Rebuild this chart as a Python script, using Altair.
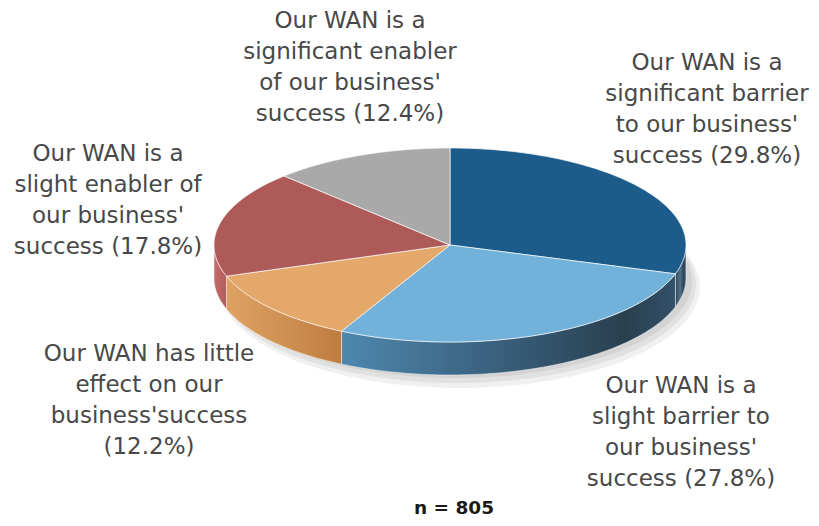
import math
import altair as alt

# ---------------- data ----------------
categories = [
    "Our WAN is a significant barrier to our business' success",
    "Our WAN is a slight barrier to our business' success",
    "Our WAN has little effect on our business' success",
    "Our WAN is a slight enabler of our business' success",
    "Our WAN is a significant enabler of our business' success",
]
shares = [29.8, 27.8, 12.2, 17.8, 12.4]
label_lines = [
    ["Our WAN is a", "significant barrier", "to our business'", "success (29.8%)"],
    ["Our WAN is a", "slight barrier to", "our business'", "success (27.8%)"],
    ["Our WAN has little", "effect on our", "business'success", "(12.2%)"],
    ["Our WAN is a", "slight enabler  of", "our business'", "success (17.8%)"],
    ["Our WAN is a", "significant enabler", "of our business'", "success (12.4%)"],
]
footnote = "n = 805"

# ---------------- style / layout ----------------
top_colors = ["#1d5c8a", "#72b1da", "#e4a86a", "#ad5a59", "#a9a9a9"]
wall_stops = [
    [("#2e465c", 0), ("#52708c", 0.45), ("#2f4558", 0.75), ("#3d566e", 1)],
    [("#4e87ae", 0), ("#3a617e", 0.45), ("#29404f", 0.85), ("#33506a", 1)],
    [("#dda263", 0), ("#cf9152", 0.5), ("#bd7d3f", 1)],
    [("#c46b6b", 0), ("#b45d5d", 1)],
    [("#999999", 0), ("#888888", 1)],
]
label_anchor = [(707, 63), (681, 386), (149, 354), (108, 154), (350, 21)]
line_gap = 31
CX, CY, RX, RY, DEPTH = 450, 245, 236, 97, 33
W, H = 803, 510


def pt(theta, dy=0.0):
    return [CX + RX * math.sin(theta), CY - RY * math.cos(theta) + dy]


def lin(a, b, n=90):
    return [a + (b - a) * k / (n - 1) for k in range(n)]


def feature(ring, name):
    return {"type": "Feature", "properties": {"name": name},
            "geometry": {"type": "Polygon", "coordinates": [ring]}}


total = sum(shares)
bounds = []
acc = 0.0
for v in shares:
    a0 = acc / total * 2 * math.pi
    acc += v
    a1 = acc / total * 2 * math.pi
    bounds.append((a0, a1))

proj = dict(type="identity", scale=1, translate=[-8, -8])

# shadow
shadow_feats = []
for k, (grow, off, dx) in enumerate([(4, 9, 10), (2, 6, 8), (0, 3, 6)]):
    ring = [[CX + dx + (RX + grow) * math.sin(a), CY + DEPTH + off - (RY + grow) * math.cos(a)]
            for a in lin(0, 2 * math.pi, 120)]
    shadow_feats.append(feature(ring, "shadow%d" % k))
shadow = alt.Chart(alt.Data(values=shadow_feats)).mark_geoshape(
    fill="#000000", fillOpacity=0.06, strokeWidth=0
).project(**proj)

layers = [shadow]

# walls
for i, (a0, a1) in enumerate(bounds):
    lo, hi = max(a0, math.pi / 2), min(a1, 3 * math.pi / 2)
    if lo >= hi:
        continue
    top = [pt(a) for a in lin(lo, hi)]
    bot = [pt(a, DEPTH) for a in lin(hi, lo)]
    ring = top + bot + [top[0]]
    grad = alt.LinearGradient(
        gradient="linear",
        stops=[alt.GradientStop(color=c, offset=o) for c, o in wall_stops[i]],
        x1=0, x2=1, y1=0, y2=0,
    )
    layers.append(
        alt.Chart(alt.Data(values=[feature(ring, categories[i])])).mark_geoshape(
            fill=grad, stroke="#ffffff", strokeOpacity=0.6, strokeWidth=0.8
        ).project(**proj)
    )

# tops
top_feats = []
for i, (a0, a1) in enumerate(bounds):
    ring = [[CX, CY]] + [pt(a) for a in lin(a0, a1, 160)] + [[CX, CY]]
    top_feats.append(feature(ring, categories[i]))
tops = alt.Chart(alt.Data(values=top_feats)).mark_geoshape(
    stroke="#ffffff", strokeOpacity=0.75, strokeWidth=0.9, fillOpacity=1
).encode(
    color=alt.Color("properties.name:N",
                    scale=alt.Scale(domain=categories, range=top_colors),
                    legend=None)
).project(**proj)
layers.append(tops)

# labels
rows = []
for i, lines in enumerate(label_lines):
    x0, y0 = label_anchor[i]
    for j, t in enumerate(lines):
        rows.append({"x": x0, "y": y0 + j * line_gap, "text": t})
labels = alt.Chart(alt.Data(values=rows)).mark_text(
    font="DejaVu Sans", fontSize=23, color="#484848", align="center", baseline="middle"
).encode(longitude="x:Q", latitude="y:Q", text="text:N").project(**proj)
layers.append(labels)

foot = alt.Chart(alt.Data(values=[{"x": 454, "y": 508, "text": footnote}])).mark_text(
    font="DejaVu Sans", fontSize=18.5, fontWeight="bold", color="#1a1a1a",
    align="center", baseline="middle"
).encode(longitude="x:Q", latitude="y:Q", text="text:N").project(**proj)
layers.append(foot)

chart = alt.layer(*layers).properties(
    width=W, height=H, padding=0,
    autosize=alt.AutoSizeParams(type="none"),
).configure_view(stroke=None)

chart.save("out.html", embed_options={"renderer": "svg", "actions": False})
